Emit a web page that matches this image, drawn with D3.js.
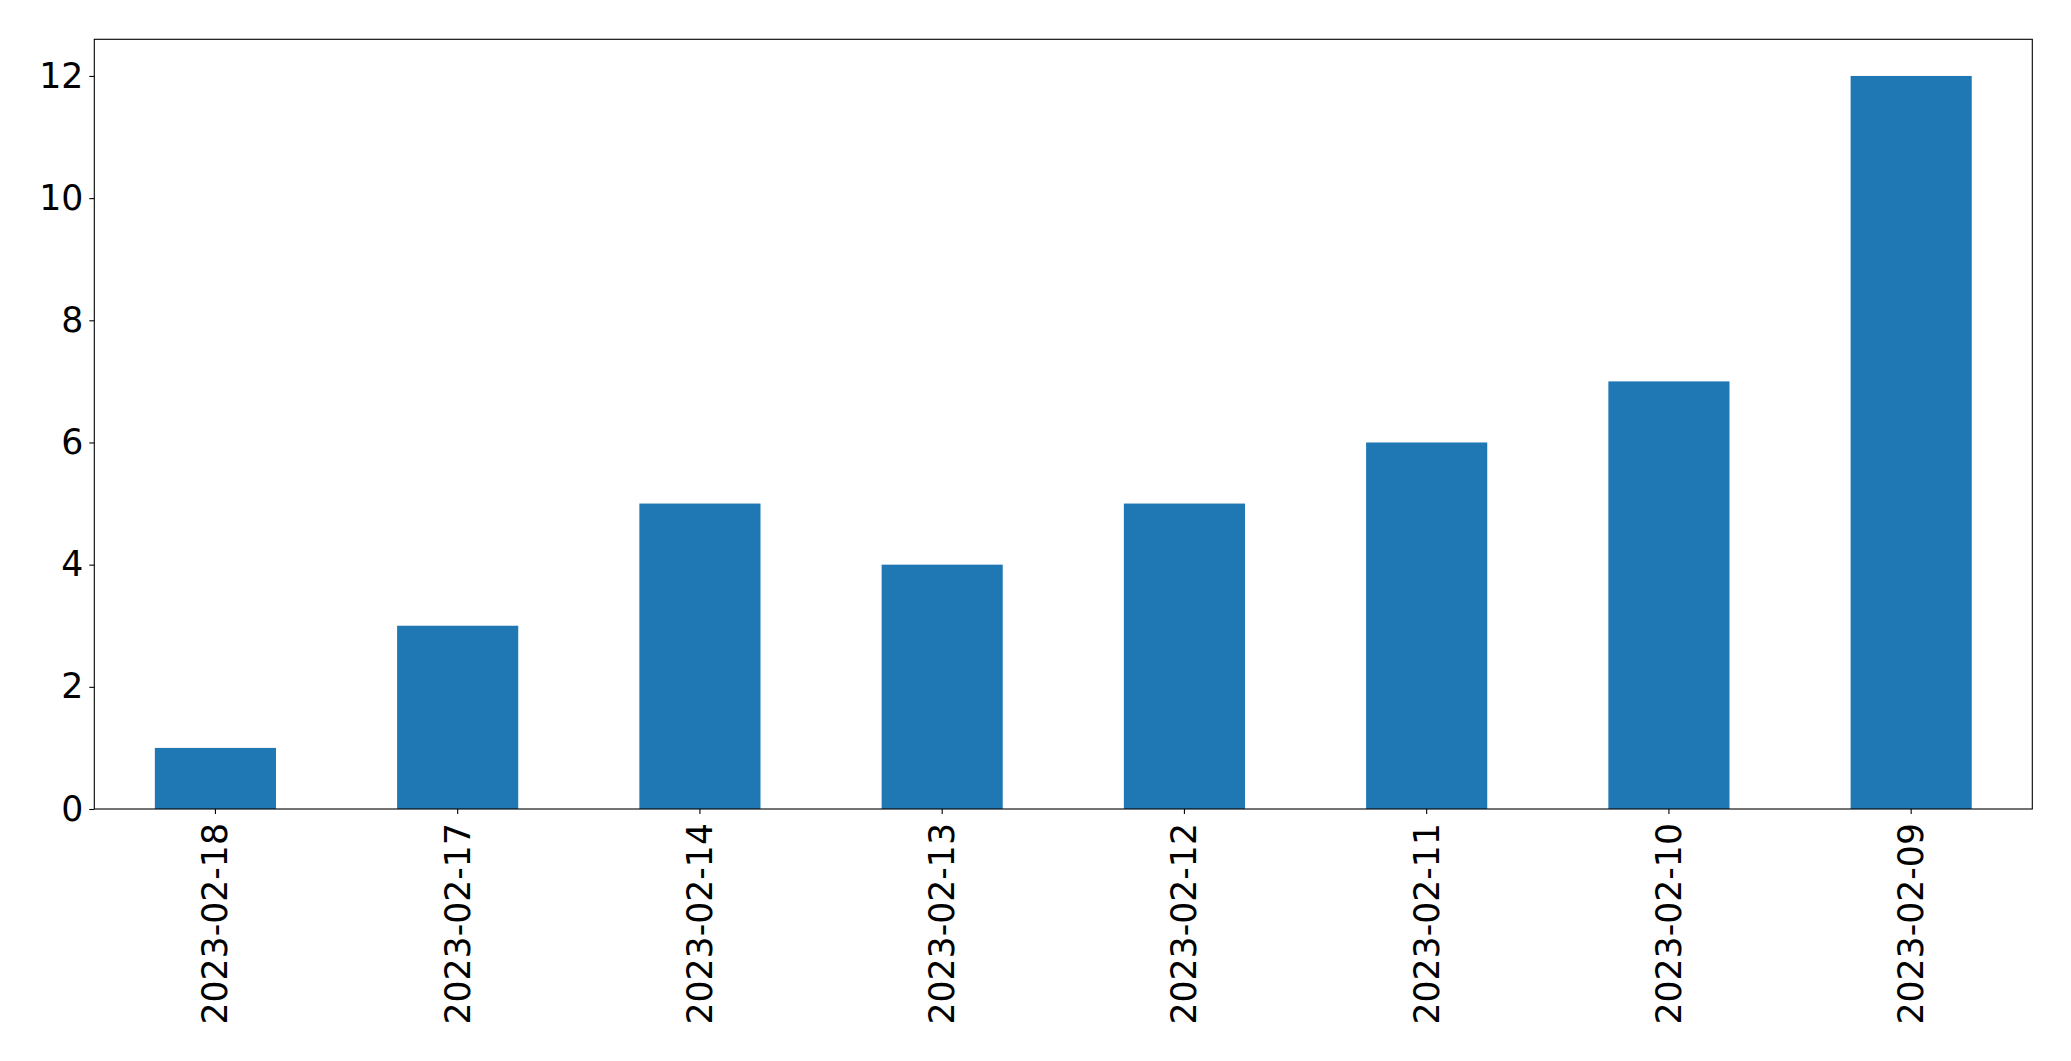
<!DOCTYPE html>
<html>
<head>
<meta charset="utf-8">
<script src="https://cdn.jsdelivr.net/npm/d3@7"></script>
<style>
  html, body { margin: 0; padding: 0; background: #fff; }
  svg { display: block; }
  text { font-family: "DejaVu Sans", sans-serif; fill: #000; }
</style>
</head>
<body>
<script>
const categories = ["2023-02-18", "2023-02-17", "2023-02-14", "2023-02-13", "2023-02-12", "2023-02-11", "2023-02-10", "2023-02-09"];
const values = [1, 3, 5, 4, 5, 6, 7, 12];
const yTicks = [0, 2, 4, 6, 8, 10, 12];

const W = 2071, H = 1061;
const mLeft = 94.3, mRight = 2032.3, mTop = 39.3, mBottom = 809;
const fontSize = 34.7;

const svg = d3.select("body").append("svg").attr("width", W).attr("height", H);

const x = d3.scaleBand().domain(categories).range([mLeft, mRight]).paddingInner(0.5).paddingOuter(0.25);
const y = d3.scaleLinear().domain([0, 12.6]).range([mBottom, mTop]);

svg.append("g").selectAll("rect").data(values).join("rect")
  .attr("x", (d, i) => x(categories[i]))
  .attr("width", x.bandwidth())
  .attr("y", d => y(d))
  .attr("height", d => y(0) - y(d))
  .attr("fill", "#1f77b4");

const yAxis = d3.axisLeft(y).tickValues(yTicks).tickFormat(d3.format("d")).tickSize(5).tickPadding(6);
const gy = svg.append("g").attr("transform", `translate(${mLeft},0)`).call(yAxis);
gy.select(".domain").remove();
gy.selectAll("line").attr("stroke", "#000").attr("stroke-width", 1.1);
gy.selectAll("text").style("font-size", fontSize + "px").attr("font-family", "DejaVu Sans");

const xAxis = d3.axisBottom(x).tickSize(5).tickPadding(0);
const gx = svg.append("g").attr("transform", `translate(0,${mBottom})`).call(xAxis);
gx.select(".domain").remove();
gx.selectAll("line").attr("stroke", "#000").attr("stroke-width", 1.1);
gx.selectAll("text")
  .style("font-size", fontSize + "px")
  .attr("font-family", "DejaVu Sans")
  .attr("dy", null)
  .attr("y", null)
  .attr("text-anchor", "end")
  .attr("dominant-baseline", "central")
  .attr("transform", "translate(0,14) rotate(-90)");

svg.append("rect")
  .attr("x", mLeft).attr("y", mTop)
  .attr("width", mRight - mLeft).attr("height", mBottom - mTop)
  .attr("fill", "none").attr("stroke", "#000").attr("stroke-width", 1.1);
</script>
</body>
</html>
